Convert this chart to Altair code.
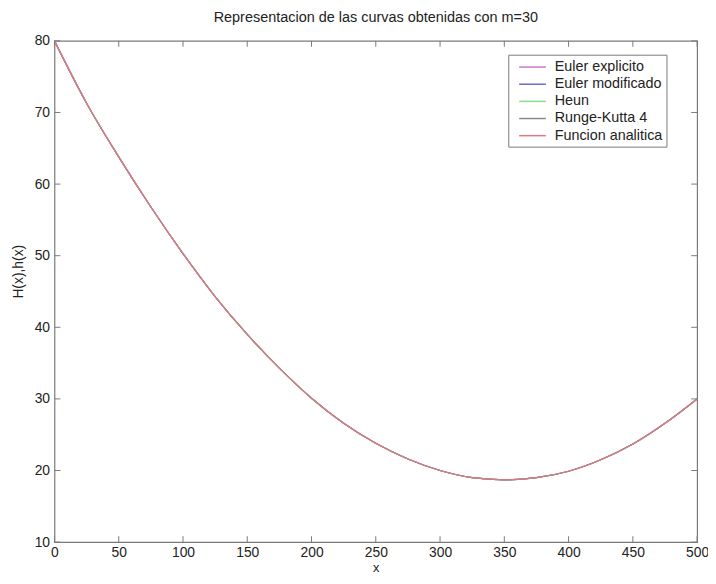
import altair as alt
import pandas as pd

# values
x_vals = [0, 25, 50, 75, 100, 125, 150, 175, 200, 225, 250, 275, 300,
          325, 350, 375, 400, 425, 450, 475, 500]
h_vals = [80.0, 71.3, 63.8, 56.8, 50.3, 44.3, 39.0, 34.3, 30.1, 26.6, 23.8,
          21.6, 20.0, 19.0, 18.7, 19.0, 19.9, 21.5, 23.7, 26.6, 30.0]
series = ["Euler explicito", "Euler modificado", "Heun", "Runge-Kutta 4",
          "Funcion analitica"]
colors = ["#cc77cc", "#6b6bbf", "#88dd88", "#8a8a8a", "#e07880"]
x_ticks = [0, 50, 100, 150, 200, 250, 300, 350, 400, 450, 500]
y_ticks = [10, 20, 30, 40, 50, 60, 70, 80]

rows = []
for i, s in enumerate(series):
    for xv, hv in zip(x_vals, h_vals):
        rows.append({"x": xv, "h": hv, "serie": s, "ord": i})
df = pd.DataFrame(rows)
xt = pd.DataFrame({"x": x_ticks})
yt = pd.DataFrame({"h": y_ticks})

W, H = 650, 507
FONT = "Liberation Sans"
TXT = "#222222"
FRAME = "#7a7a7a"
TL = 6

xscale = alt.Scale(domain=[0, 500], nice=False, zero=False)
yscale = alt.Scale(domain=[10, 80], nice=False, zero=False)
xaxis = alt.Axis(values=x_ticks, title="x", grid=False, domain=False,
                 tickSize=0, labelPadding=4, labelFlush=False,
                 titleBaseline="alphabetic", titleY=30, titleFontSize=13)
yaxis = alt.Axis(values=y_ticks, title="H(x),h(x)", grid=False, domain=False,
                 tickSize=0, labelPadding=5, titlePadding=9, labelFlush=False,
                 titleY=233)

lines = alt.Chart(df).mark_line(strokeWidth=1.2, interpolate="monotone").encode(
    x=alt.X("x:Q", scale=xscale, axis=xaxis),
    y=alt.Y("h:Q", scale=yscale, axis=yaxis),
    color=alt.Color("serie:N", sort=series,
                    scale=alt.Scale(domain=series, range=colors),
                    legend=alt.Legend(title=None, orient="none", legendX=459,
                                      legendY=14, strokeColor=FRAME,
                                      fillColor="white", padding=4,
                                      symbolType="M-1.8,0H1.8",
                                      symbolSize=225, symbolOffset=12,
                                      symbolStrokeWidth=1.5, labelOffset=14,
                                      rowPadding=2.35, labelFontSize=14.5,
                                      labelFont=FONT, labelColor=TXT)),
    detail="serie:N",
    order=alt.Order("ord:Q"),
)

bottom = alt.Chart(xt).mark_rule(color=FRAME).encode(
    x=alt.X("x:Q", scale=xscale, axis=xaxis),
    y=alt.value(H), y2=alt.value(H - TL))
top = alt.Chart(xt).mark_rule(color=FRAME).encode(
    x=alt.X("x:Q", scale=xscale, axis=xaxis),
    y=alt.value(0), y2=alt.value(TL))
left = alt.Chart(yt).mark_rule(color=FRAME).encode(
    y=alt.Y("h:Q", scale=yscale, axis=yaxis),
    x=alt.value(0), x2=alt.value(TL))
right = alt.Chart(yt).mark_rule(color=FRAME).encode(
    y=alt.Y("h:Q", scale=yscale, axis=yaxis),
    x=alt.value(W), x2=alt.value(W - TL))

chart = alt.layer(lines, bottom, top, left, right).properties(
    width=W, height=H,
    autosize="none",
    padding={"left": 47, "top": 30, "right": 11, "bottom": 30},
    background="white",
    title=alt.TitleParams("Representacion de las curvas obtenidas con m=30",
                          fontSize=14.6, font=FONT, fontWeight="normal",
                          color=TXT, anchor="middle", offset=9),
).configure_view(stroke=FRAME, strokeWidth=1.2).configure_axis(
    labelFont=FONT, labelFontSize=14, labelColor=TXT,
    titleFont=FONT, titleFontSize=14, titleColor=TXT, titleFontWeight="normal",
)

chart.save("out.html", embed_options={"renderer": "svg", "actions": False})
